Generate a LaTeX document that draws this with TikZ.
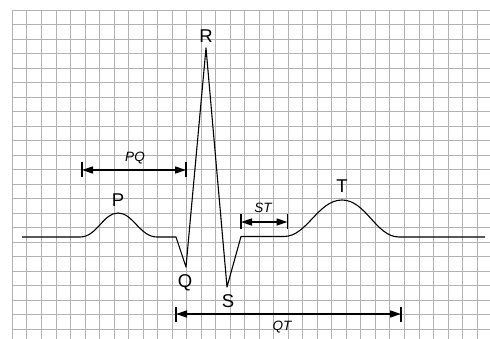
\documentclass[tikz,border=0pt]{standalone}
\usepackage{fontspec}
\setmainfont{Liberation Sans}
\usetikzlibrary{arrows.meta}
\begin{document}
\begin{tikzpicture}[x=1pt,y=-1pt,
  gridline/.style={draw=black!30,line width=0.9pt},
  trace/.style={draw=black,line width=1.1pt,line join=round},
  dimline/.style={draw=black,line width=1.5pt,{Triangle[length=11pt,width=7pt]}-{Triangle[length=11pt,width=7pt]}},
  dimbar/.style={draw=black,line width=1.6pt},
  wave/.style={font=\fontsize{18.5}{18.5}\selectfont,inner sep=0pt},
  interval/.style={font=\fontsize{13.5}{13.5}\selectfont\itshape,inner sep=0pt}]
\useasboundingbox (0,0) rectangle (490,339);
\fill[white] (0,0) rectangle (490,339);
\begin{scope}
\clip (12,10) rectangle (490,339);
\foreach \i in {0,...,33} \draw[gridline] ({12.4+14.52*\i},10) -- ({12.4+14.52*\i},339);
\foreach \j in {0,...,23} \draw[gridline] (12,{10.2+14.5*\j}) -- (490,{10.2+14.5*\j});
\end{scope}
% ECG trace
\draw[trace] (22,237) -- (80,237)
  .. controls (97,237) and (103,213) .. (118,213)
  .. controls (133,213) and (140,237) .. (157,237)
  -- (176,237) -- (186,267) -- (206,48) -- (227,287) -- (241,236.5)
  -- (284,236.5)
  .. controls (307,236.5) and (318,200) .. (342,200)
  .. controls (366,200) and (376,237) .. (399,237)
  -- (485,237);
% labels
\node[wave] (R) at (206,36) {R};
\node[wave] (P) at (118,200) {P};
\node[wave] (Q) at (185,283) {Q};
\node[wave] (S) at (228,301) {S};
\node[wave] (T) at (342,186) {T};
% dimension coordinates
\coordinate (pq1) at (82,170);
\coordinate (pq2) at (186,170);
\coordinate (st1) at (241,222);
\coordinate (st2) at (287.5,222);
\coordinate (qt1) at (176,314);
\coordinate (qt2) at (401,314);
\foreach \c in {pq1,pq2,st1,st2,qt1,qt2}
  \draw[dimbar] ([yshift=-7.5pt]\c) -- ([yshift=7.5pt]\c);
\draw[dimline] (pq1) -- (pq2);
\draw[dimline] (st1) -- (st2);
\draw[dimline] (qt1) -- (qt2);
\node[interval] (PQ) at (135,158) {PQ};
\node[interval] (ST) at (263,208) {ST};
\node[interval] (QT) at (282,327) {QT};
\end{tikzpicture}
\end{document}
